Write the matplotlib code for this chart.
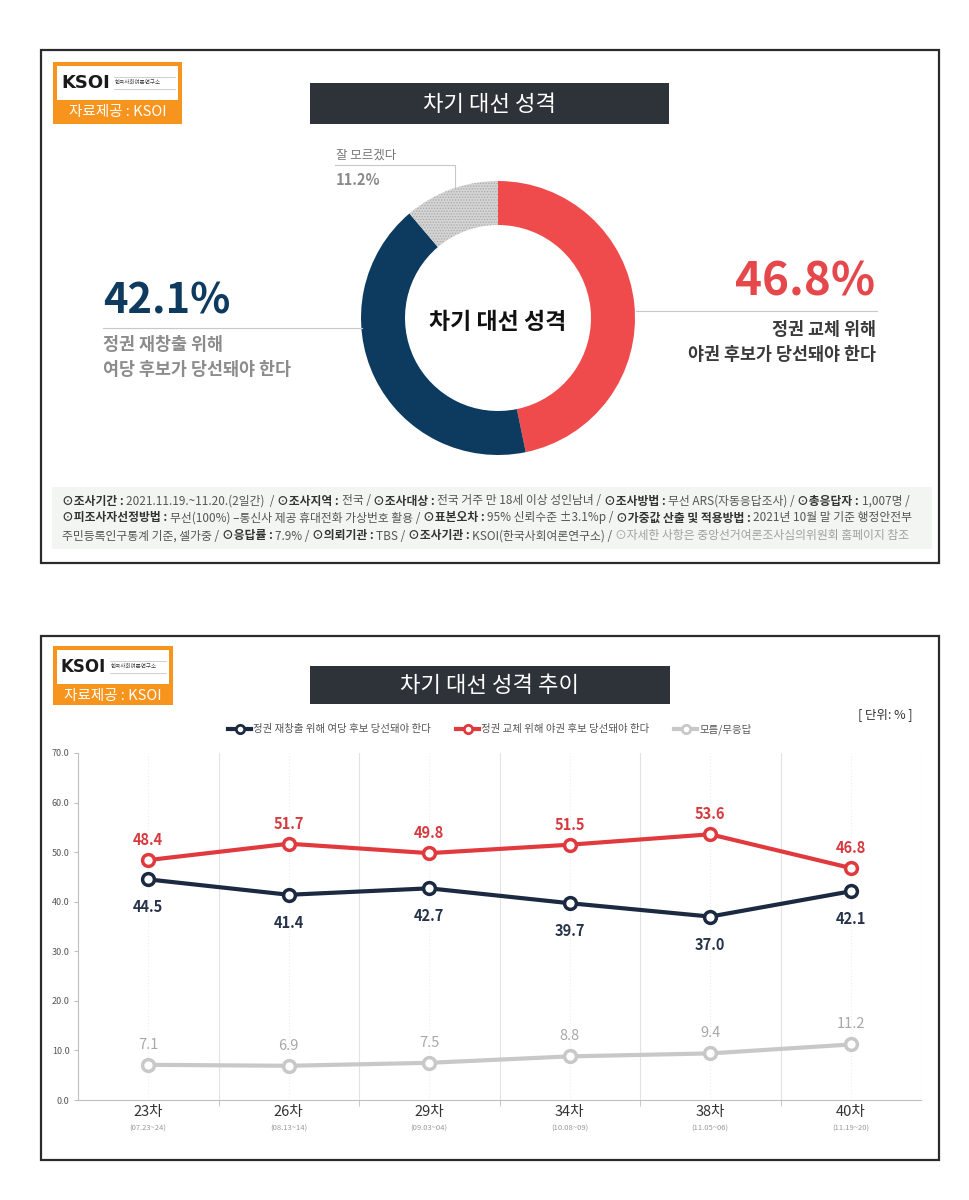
import numpy as np
import matplotlib
matplotlib.use('Agg')
import matplotlib.pyplot as plt
from matplotlib.patches import Rectangle
from matplotlib.lines import Line2D

plt.rcParams['font.family'] = ['Noto Sans CJK KR', 'DejaVu Sans']
plt.rcParams['hatch.linewidth'] = 0.6

# 도넛 차트 데이터
donut_labels = ['정권 교체', '정권 재창출', '잘 모르겠다']
donut_values = [46.8, 42.1, 11.2]

# 추이 데이터
rounds = ['23차', '26차', '29차', '34차', '38차', '40차']
dates = ['(07.23~24)', '(08.13~14)', '(09.03~04)', '(10.08~09)', '(11.05~06)', '(11.19~20)']
ruling = [44.5, 41.4, 42.7, 39.7, 37.0, 42.1]
opposition = [48.4, 51.7, 49.8, 51.5, 53.6, 46.8]
unsure = [7.1, 6.9, 7.5, 8.8, 9.4, 11.2]
legend_labels = ['정권 재창출 위해 여당 후보 당선돼야 한다', '정권 교체 위해 야권 후보 당선돼야 한다', '모름/무응답']

W, H = 970, 1200
fig = plt.figure(figsize=(W / 100, H / 100), dpi=100)
fig.patch.set_facecolor('white')


def fx(px):
    return px / W


def fy(py):
    return 1 - py / H


def box(x0, y0, x1, y1, **kw):
    fig.add_artist(Rectangle((fx(x0), fy(y1)), (x1 - x0) / W, (y1 - y0) / H,
                             transform=fig.transFigure, **kw))


def logo(x1, y0, y1, ks):
    box(53, y0, x1, y1, color='#f7941d', lw=0)
    box(57, y0 + 4, x1 - 4, y0 + 38, color='white', lw=0)
    fig.text(fx(61), fy(y0 + 21), 'KSOI', fontsize=ks, weight='bold', color='#1a1a1a',
             va='center', family='DejaVu Sans')
    xs = 61 + ks * 4.15
    fig.text(fx(xs), fy(y0 + 21), '한국사회여론연구소', fontsize=4.0, color='#444', va='center')
    fig.add_artist(Line2D([fx(xs - 1), fx(x1 - 7)], [fy(y0 + 15), fy(y0 + 15)], color='#aaa', lw=0.4))
    fig.add_artist(Line2D([fx(xs - 1), fx(x1 - 7)], [fy(y0 + 27), fy(y0 + 27)], color='#aaa', lw=0.4))
    fig.text(fx((53 + x1) / 2), fy(y0 + 50), '자료제공 : KSOI', fontsize=10.5, color='white',
             ha='center', va='center')


def title_box(x0, y0, x1, y1, s):
    box(x0, y0, x1, y1, color='#2d3338', lw=0)
    fig.text(fx((x0 + x1) / 2), fy((y0 + y1) / 2 + 1), s, fontsize=16, color='white',
             ha='center', va='center')


# 패널 테두리
box(41, 50, 939, 563, fill=False, edgecolor='#2b2b2b', lw=1.6)
box(41, 636, 939, 1160, fill=False, edgecolor='#2b2b2b', lw=1.6)

# ---------------- 상단: 도넛 ----------------
logo(182, 62, 124, 13)
title_box(310, 83, 669, 124, '차기 대선 성격')

axd = fig.add_axes([fx(498 - 140), fy(318 + 140), 280 / W, 280 / H])
wedges, _ = axd.pie(donut_values, colors=['#f04b4c', '#0d3a5f', '#d4d4d4'], startangle=90,
                    counterclock=False, radius=137 / 140,
                    wedgeprops=dict(width=44 / 140, linewidth=0))
wedges[2].set_hatch('......')
wedges[2].set_edgecolor('#a9a9a9')
wedges[2].set_linewidth(0)
axd.set_xlim(-1, 1)
axd.set_ylim(-1, 1)
axd.axis('off')
axd.text(0, -0.03, '차기 대선 성격', ha='center', va='center', fontsize=16.5, weight='bold', color='#111')

# 왼쪽 주석
fig.text(fx(103), fy(301), '42.1%', fontsize=30, weight='bold', color='#0f3a5f', va='center')
fig.add_artist(Line2D([fx(103), fx(362)], [fy(328), fy(328)], color='#c8c8c8', lw=0.8))
fig.text(fx(103), fy(345), '정권 재창출 위해', fontsize=12.5, weight='bold', color='#8c8c8c', va='center')
fig.text(fx(103), fy(370), '여당 후보가 당선돼야 한다', fontsize=12.5, weight='bold', color='#8c8c8c', va='center')

# 오른쪽 주석
fig.text(fx(875), fy(283), '46.8%', fontsize=33, weight='bold', color='#e5474b', va='center', ha='right')
fig.add_artist(Line2D([fx(636), fx(877)], [fy(311), fy(311)], color='#c8c8c8', lw=0.8))
fig.text(fx(876), fy(330), '정권 교체 위해', fontsize=12.5, weight='bold', color='#3a3a3a', va='center', ha='right')
fig.text(fx(876), fy(355), '야권 후보가 당선돼야 한다', fontsize=12.5, weight='bold', color='#3a3a3a', va='center', ha='right')

# 위쪽 주석
fig.text(fx(336), fy(155), '잘 모르겠다', fontsize=9, color='#777', va='center')
fig.add_artist(Line2D([fx(335), fx(455), fx(455)], [fy(165), fy(165), fy(187)], color='#c8c8c8', lw=0.8))
fig.text(fx(336), fy(180), '11.2%', fontsize=10.5, weight='bold', color='#8a8a8a', va='center')

# 조사 개요
box(52, 487, 932, 549, color='#f2f5f2', lw=0)
C_B, C_N, C_L = '#333333', '#555555', '#a0a0a0'
foot_lines = [
    [('⊙조사기간 :', True, C_B), ('2021.11.19.~11.20.(2일간)  /', False, C_N), ('⊙조사지역 :', True, C_B),
     ('전국 /', False, C_N), ('⊙조사대상 :', True, C_B), ('전국 거주 만 18세 이상 성인남녀 /', False, C_N),
     ('⊙조사방법 :', True, C_B), ('무선 ARS(자동응답조사) /', False, C_N), ('⊙총응답자 :', True, C_B),
     ('1,007명 /', False, C_N)],
    [('⊙피조사자선정방법 :', True, C_B), ('무선(100%) –통신사 제공 휴대전화 가상번호 활용 /', False, C_N),
     ('⊙표본오차 :', True, C_B), ('95% 신뢰수준 ±3.1%p /', False, C_N),
     ('⊙가중값 산출 및 적용방법 :', True, C_B), ('2021년 10월 말 기준 행정안전부', False, C_N)],
    [('주민등록인구통계 기준, 셀가중 /', False, C_N), ('⊙응답률 :', True, C_B), ('7.9% /', False, C_N),
     ('⊙의뢰기관 :', True, C_B), ('TBS /', False, C_N), ('⊙조사기관 :', True, C_B),
     ('KSOI(한국사회여론연구소) /', False, C_N), ('⊙자세한 사항은 중앙선거여론조사심의위원회 홈페이지 참조', False, C_L)],
]
renderer = fig.canvas.get_renderer()


def draw_runs(runs, x0, y0, fs):
    x = x0
    arts = []
    for s, bold, col in runs:
        t = fig.text(fx(x), fy(y0), s, fontsize=fs, weight='bold' if bold else 'normal',
                     color=col, va='center', ha='left')
        x += t.get_window_extent(renderer).width + fs * 0.3
        arts.append(t)
    return x - x0, arts


w0, tmp = draw_runs(foot_lines[0], 62, 501, 8)
for t in tmp:
    t.remove()
fs_foot = min(8.5, 8 * 858 / w0)
for runs, yy in zip(foot_lines, [501, 518, 536]):
    draw_runs(runs, 62, yy, fs_foot)

# ---------------- 하단: 추이 ----------------
logo(173, 646, 705, 12)
title_box(310, 666, 670, 704, '차기 대선 성격 추이')
fig.text(fx(913), fy(715), '[ 단위: % ]', fontsize=9, color='#333', ha='right', va='center')

ax = fig.add_axes([fx(78), fy(1100), (921 - 78) / W, (1100 - 753) / H])
x = np.arange(len(rounds))
ax.set_xlim(-0.5, 5.5)
ax.set_ylim(0, 70)
for b in np.arange(0.5, 6, 1):
    ax.axvline(b, color='#e2e2e2', lw=0.8, zorder=0)
for c in x:
    ax.axvline(c, color='#ededed', lw=0.8, ls=(0, (1, 2)), zorder=0)

series = [
    (ruling, '#1b2a40', '#27334a', -28, 'bold', legend_labels[0]),
    (opposition, '#e03a3e', '#d63a3f', 20, 'bold', legend_labels[1]),
    (unsure, '#c8c8c8', '#a8a8a8', 20, 'normal', legend_labels[2]),
]
handles = []
for vals, col, tcol, off, wt, lab in series:
    ax.plot(x, vals, color=col, lw=3, marker='o', ms=8.5, mfc='white', mec=col,
            mew=2.5, zorder=3, label=lab)
    handles.append(Line2D([], [], color=col, lw=3, marker='o', ms=6, mfc='white', mec=col, mew=2))
    for xi, v in zip(x, vals):
        ax.annotate(f'{v:.1f}', (xi, v), xytext=(0, off * 0.72), textcoords='offset points',
                    ha='center', va='center', fontsize=10.5, weight=wt, color=tcol)

for s in ['top', 'right']:
    ax.spines[s].set_visible(False)
for s in ['left', 'bottom']:
    ax.spines[s].set_color('#bfbfbf')
    ax.spines[s].set_linewidth(0.8)
ax.set_yticks(range(0, 71, 10))
ax.set_yticklabels([f'{v:.1f}' for v in range(0, 71, 10)], fontsize=6.5, color='#555')
ax.tick_params(axis='y', length=3, color='#bfbfbf', pad=3)
ax.set_xticks(x)
ax.set_xticklabels([])
ax.tick_params(axis='x', which='major', length=0)
ax.set_xticks(np.arange(0.5, 5, 1), minor=True)
ax.tick_params(axis='x', which='minor', length=4, color='#bfbfbf')

for xi, r, d in zip(x, rounds, dates):
    ax.annotate(r, (xi, 0), xycoords=('data', 'axes fraction'), xytext=(0, -12 * 0.72),
                textcoords='offset points', ha='center', va='center', fontsize=10.5, color='#333')
    ax.annotate(d, (xi, 0), xycoords=('data', 'axes fraction'), xytext=(0, -29 * 0.72),
                textcoords='offset points', ha='center', va='center', fontsize=5.5, color='#999')

fig.legend(handles, legend_labels, loc='center', bbox_to_anchor=(fx(490), fy(729)), ncol=3,
           frameon=False, fontsize=7.5, handlelength=2.2, handletextpad=0.2, columnspacing=2.4,
           labelcolor='#555')

fig.savefig('out.png', dpi=100, facecolor='white')
